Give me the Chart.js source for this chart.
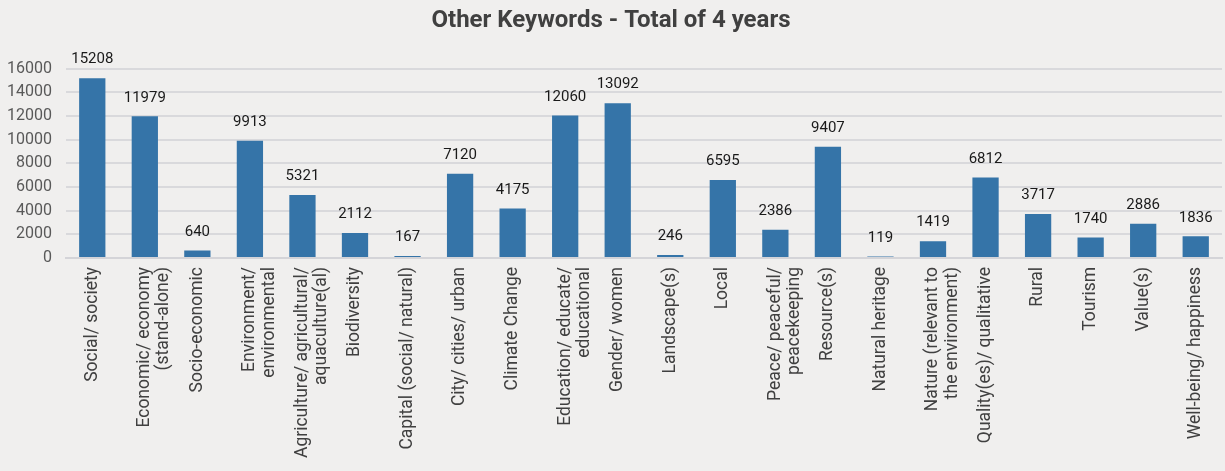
<!DOCTYPE html>
<html>
<head>
<meta charset="utf-8">
<script src="https://cdn.jsdelivr.net/npm/chart.js@4/dist/chart.umd.min.js"></script>
<style>
  html,body{margin:0;padding:0;background:#f0efee;}
  #wrap{width:1225px;height:471px;}
</style>
</head>
<body>
<div id="wrap"><canvas id="kw" width="1225" height="471"></canvas></div>
<script>
// keyword categories (multi-line labels as shown under the axis)
const categories = [
  ['Social/ society'],
  ['Economic/ economy', '(stand-alone)'],
  ['Socio-economic'],
  ['Environment/', 'environmental'],
  ['Agriculture/ agricultural/', 'aquaculture(al)'],
  ['Biodiversity'],
  ['Capital (social/ natural)'],
  ['City/ cities/ urban'],
  ['Climate Change'],
  ['Education/ educate/', 'educational'],
  ['Gender/ women'],
  ['Landscape(s)'],
  ['Local'],
  ['Peace/ peaceful/', 'peacekeeping'],
  ['Resource(s)'],
  ['Natural heritage'],
  ['Nature (relevant to', 'the environment)'],
  ['Quality(es)/ qualitative'],
  ['Rural'],
  ['Tourism'],
  ['Value(s)'],
  ['Well-being/ happiness']
];
const totals = [15208, 11979, 640, 9913, 5321, 2112, 167, 7120, 4175, 12060, 13092,
  246, 6595, 2386, 9407, 119, 1419, 6812, 3717, 1740, 2886, 1836];
const yTicks = [0, 2000, 4000, 6000, 8000, 10000, 12000, 14000, 16000];

const FONT = 'Roboto, "DejaVu Sans", sans-serif';

// value labels above each bar
const barValues = {
  id: 'barValues',
  afterDatasetsDraw(chart){
    const ctx = chart.ctx;
    const meta = chart.getDatasetMeta(0);
    ctx.save();
    ctx.font = '15px ' + FONT;
    ctx.fillStyle = '#1a1a1a';
    ctx.textAlign = 'center';
    ctx.textBaseline = 'bottom';
    meta.data.forEach((bar, i)=>{
      ctx.fillText(String(totals[i]), bar.x, bar.y - 11);
    });
    ctx.restore();
  }
};

new Chart(document.getElementById('kw').getContext('2d'), {
  type: 'bar',
  data: {
    labels: categories,
    datasets: [{
      data: totals,
      backgroundColor: '#3574a8',
      borderWidth: 0,
      categoryPercentage: 1,
      barPercentage: 0.5
    }]
  },
  options: {
    responsive: false,
    animation: false,
    layout: {padding: {left: 0, right: 3, top: 0, bottom: 4}},
    plugins: {
      legend: {display: false},
      tooltip: {enabled: false},
      title: {
        display: true,
        text: 'Other Keywords - Total of 4 years',
        color: '#404040',
        font: {family: FONT, size: 24, weight: 'bold'},
        padding: {top: 7, bottom: 33}
      }
    },
    scales: {
      x: {
        grid: {display: false, drawTicks: false},
        border: {color: '#d4d4d8', width: 2},
        ticks: {
          color: '#404040',
          font: {family: FONT, size: 17.5, lineHeight: 1.1},
          maxRotation: 90,
          minRotation: 90,
          autoSkip: false,
          padding: 9
        }
      },
      y: {
        min: 0,
        max: 16000,
        afterBuildTicks: (axis)=>{ axis.ticks = yTicks.map(v=>({value: v})); },
        afterFit: (axis)=>{ axis.width = 66; },
        grid: {color: '#d9d9dc', lineWidth: 2, drawTicks: false},
        border: {display: false},
        ticks: {
          color: '#595959',
          font: {family: FONT, size: 16},
          padding: 14,
          callback: (v)=>String(v)
        }
      }
    }
  },
  plugins: [barValues]
});
</script>
</body>
</html>
